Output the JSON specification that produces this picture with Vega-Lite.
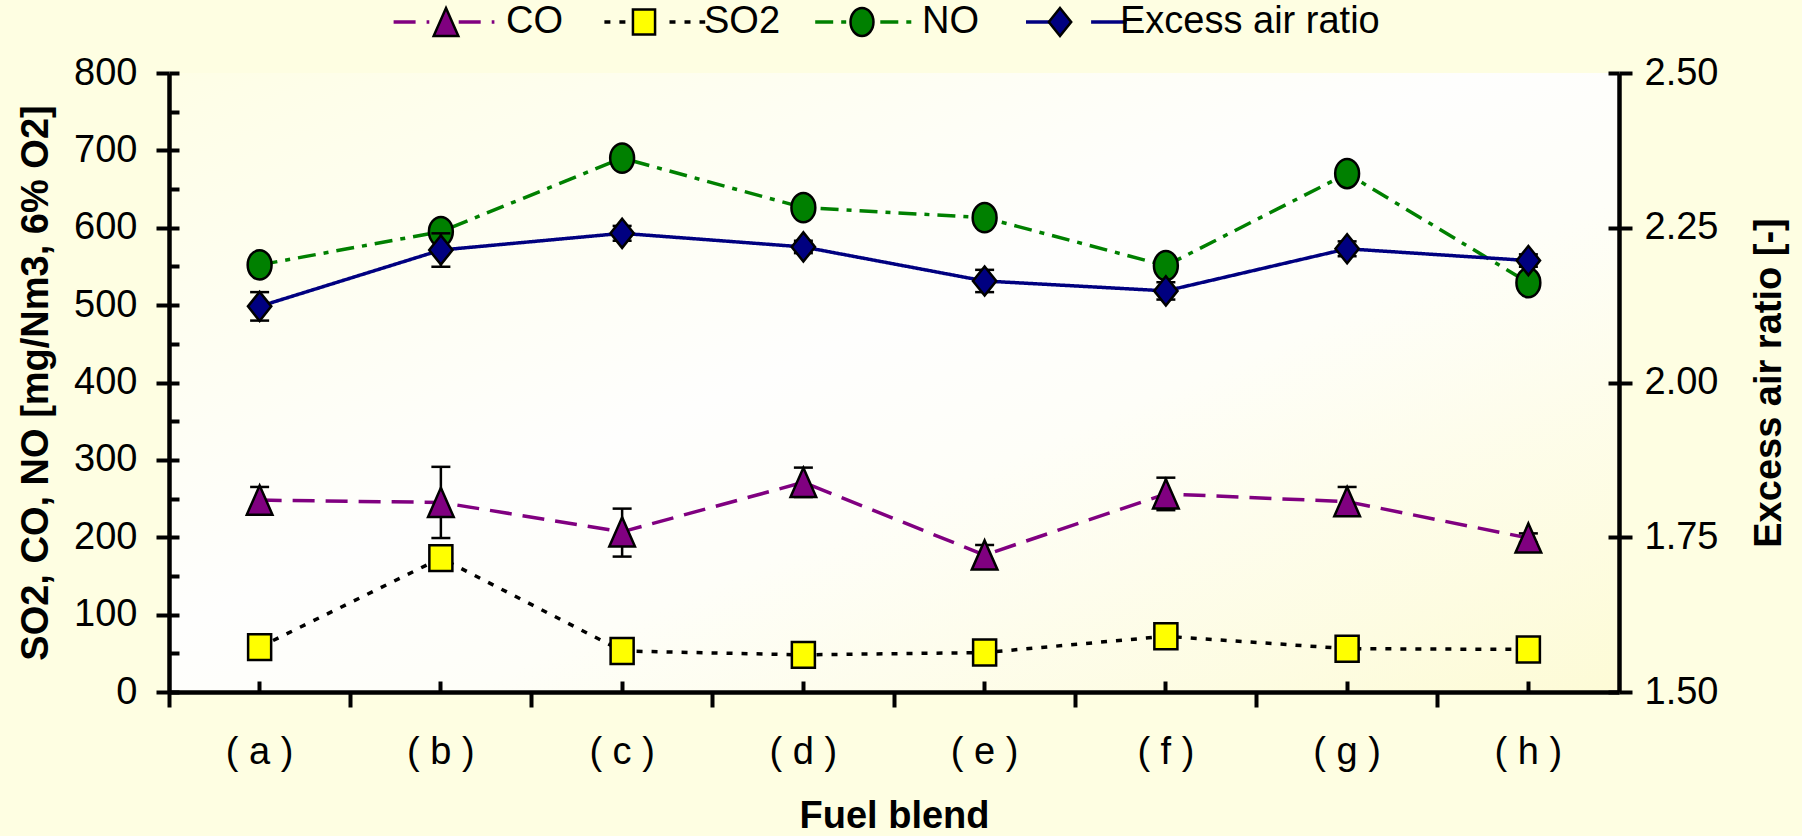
{
  "$schema": "https://vega.github.io/schema/vega-lite/v6.json",
  "width": 1450,
  "height": 619,
  "autosize": {"type": "none"},
  "padding": {"left": 169, "top": 73, "right": 183, "bottom": 144},
  "background": "#fefee2",
  "config": {
    "font": "Liberation Sans",
    "view": {
      "stroke": null,
      "fill": {
        "gradient": "linear", "x1": 0, "y1": 0, "x2": 1, "y2": 1,
        "stops": [
          {"offset": 0, "color": "#fefee6"},
          {"offset": 0.45, "color": "#fefefd"},
          {"offset": 0.6, "color": "#fefef8"},
          {"offset": 1, "color": "#fdfbd6"}
        ]
      }
    },
    "axis": {
      "labelFont": "Liberation Sans", "titleFont": "Liberation Sans",
      "domainColor": "black", "tickColor": "black", "labelColor": "black", "titleColor": "black",
      "grid": false, "tickWidth": 4, "domainWidth": 4.5, "labelFontSize": 38, "titleFontSize": 38,
      "titleFontWeight": "bold", "labelOverlap": false, "labelBound": false, "labelFlush": false
    },
    "legend": {"labelFont": "Liberation Sans"}
  },
  "datasets": {
    "emis": [
      {"series": "CO", "blend": "( a )", "value": 248, "lo": 231, "hi": 265},
      {"series": "CO", "blend": "( b )", "value": 245, "lo": 199, "hi": 291},
      {"series": "CO", "blend": "( c )", "value": 207, "lo": 175, "hi": 237},
      {"series": "CO", "blend": "( d )", "value": 271, "lo": 252, "hi": 290},
      {"series": "CO", "blend": "( e )", "value": 177, "lo": 164, "hi": 190},
      {"series": "CO", "blend": "( f )", "value": 256, "lo": 235, "hi": 277},
      {"series": "CO", "blend": "( g )", "value": 246, "lo": 228, "hi": 265},
      {"series": "CO", "blend": "( h )", "value": 199, "lo": 193, "hi": 205},
      {"series": "SO2", "blend": "( a )", "value": 58, "lo": null, "hi": null},
      {"series": "SO2", "blend": "( b )", "value": 173, "lo": null, "hi": null},
      {"series": "SO2", "blend": "( c )", "value": 53, "lo": null, "hi": null},
      {"series": "SO2", "blend": "( d )", "value": 48, "lo": null, "hi": null},
      {"series": "SO2", "blend": "( e )", "value": 51, "lo": null, "hi": null},
      {"series": "SO2", "blend": "( f )", "value": 72, "lo": null, "hi": null},
      {"series": "SO2", "blend": "( g )", "value": 56, "lo": null, "hi": null},
      {"series": "SO2", "blend": "( h )", "value": 55, "lo": null, "hi": null},
      {"series": "NO", "blend": "( a )", "value": 552, "lo": null, "hi": null},
      {"series": "NO", "blend": "( b )", "value": 595, "lo": null, "hi": null},
      {"series": "NO", "blend": "( c )", "value": 690, "lo": null, "hi": null},
      {"series": "NO", "blend": "( d )", "value": 626, "lo": null, "hi": null},
      {"series": "NO", "blend": "( e )", "value": 613, "lo": null, "hi": null},
      {"series": "NO", "blend": "( f )", "value": 551, "lo": null, "hi": null},
      {"series": "NO", "blend": "( g )", "value": 670, "lo": null, "hi": null},
      {"series": "NO", "blend": "( h )", "value": 529, "lo": null, "hi": null}
    ],
    "air": [
      {"series": "Excess air  ratio", "blend": "( a )", "value": 2.123, "lo": 2.100, "hi": 2.146},
      {"series": "Excess air  ratio", "blend": "( b )", "value": 2.214, "lo": 2.187, "hi": 2.241},
      {"series": "Excess air  ratio", "blend": "( c )", "value": 2.241, "lo": 2.229, "hi": 2.253},
      {"series": "Excess air  ratio", "blend": "( d )", "value": 2.219, "lo": 2.209, "hi": 2.229},
      {"series": "Excess air  ratio", "blend": "( e )", "value": 2.164, "lo": 2.146, "hi": 2.182},
      {"series": "Excess air  ratio", "blend": "( f )", "value": 2.148, "lo": 2.134, "hi": 2.162},
      {"series": "Excess air  ratio", "blend": "( g )", "value": 2.216, "lo": 2.204, "hi": 2.228},
      {"series": "Excess air  ratio", "blend": "( h )", "value": 2.197, "lo": 2.187, "hi": 2.207}
    ]
  },
  "encoding": {
    "x": {"field": "blend", "type": "nominal", "sort": null,
      "scale": {"type": "band", "paddingInner": 0, "paddingOuter": 0,
        "domain": ["( a )", "( b )", "( c )", "( d )", "( e )", "( f )", "( g )", "( h )"]},
      "axis": null}
  },
  "layer": [
    {
      "data": {"name": "emis"},
      "resolve": {"axis": {"y": "independent", "x": "independent"}},
      "layer": [
        {
          "mark": {"type": "line", "strokeWidth": 3.5},
          "encoding": {
            "x": {"field": "blend", "type": "nominal", "sort": null,
              "axis": {"orient": "bottom", "bandPosition": 0.5, "tickSize": 11, "offset": -11, "labelPadding": 41, "labelAngle": 0,
                "labelBaseline": "top", "title": "Fuel blend", "titlePadding": 26, "domain": false}},
            "y": {"field": "value", "type": "quantitative", "scale": {"domain": [0, 800], "nice": false, "zero": false},
              "axis": {"orient": "left", "values": [0, 100, 200, 300, 400, 500, 600, 700, 800], "tickSize": 13,
                "labelPadding": 19, "title": "SO2, CO, NO [mg/Nm3, 6% O2]", "titlePadding": 18}},
            "stroke": {"field": "series", "type": "nominal",
              "scale": {"domain": ["CO", "SO2", "NO", "Excess air  ratio"], "range": ["#800080", "#000000", "#008000", "#000080"]},
              "legend": {"title": null, "orient": "none", "legendX": 256, "legendY": -70, "direction": "horizontal",
                "columns": 4, "columnPadding": 94.8, "labelOffset": 0, "symbolSize": 784, "labelFontSize": 38,
                "labelExpr": "''", "padding": 0, "symbolStrokeWidth": 3.5, "symbolOpacity": 1,
                "symbolType": "M-3.6,0L-1.05,0M1.05,0L3.6,0", "symbolFillColor": "transparent"}},
            "strokeDash": {"field": "series", "type": "nominal",
              "scale": {"domain": ["CO", "SO2", "NO", "Excess air  ratio"], "range": [[22, 11], [6, 9], [18, 8, 5, 8], [1, 0]]}}
          }
        },
        {
          "transform": [{"filter": "datum.lo != null"}],
          "mark": {"type": "rule", "color": "black", "strokeWidth": 2.5},
          "encoding": {
            "y": {"field": "lo", "type": "quantitative", "axis": null},
            "y2": {"field": "hi"}
          }
        },
        {
          "transform": [{"filter": "datum.lo != null"}],
          "mark": {"type": "tick", "color": "black", "thickness": 2.5, "size": 19, "opacity": 1},
          "encoding": {
            "y": {"field": "lo", "type": "quantitative", "axis": null}
          }
        },
        {
          "transform": [{"filter": "datum.lo != null"}],
          "mark": {"type": "tick", "color": "black", "thickness": 2.5, "size": 19, "opacity": 1},
          "encoding": {
            "y": {"field": "hi", "type": "quantitative", "axis": null}
          }
        },
        {
          "mark": {"type": "point", "filled": true, "stroke": "black", "strokeWidth": 2.5, "opacity": 1, "size": 850},
          "encoding": {
            "x": {"field": "blend", "type": "nominal", "sort": null,
              "axis": {"orient": "bottom", "bandPosition": 0, "tickSize": 15, "labels": false, "title": null, "domain": true}},
            "y": {"field": "value", "type": "quantitative",
              "axis": {"orient": "left", "values": [0, 50, 100, 150, 200, 250, 300, 350, 400, 450, 500, 550, 600, 650, 700, 750, 800],
                "tickSize": 10, "offset": -10, "labels": false, "domain": false, "title": null}},
            "fill": {"field": "series", "type": "nominal",
              "scale": {"domain": ["CO", "SO2", "NO", "Excess air  ratio", "-"], "range": ["#800080", "#ffff00", "#008000", "#000080", "#ffffff"]},
              "legend": {"title": null, "orient": "none", "legendX": 258, "legendY": -70, "direction": "horizontal",
                "values": ["CO", "SO2", "NO", "Excess air  ratio"],
                "columns": 4, "columnPadding": 62, "labelOffset": 41, "symbolSize": 784, "labelFontSize": 38, "labelLimit": 500,
                "labelColor": "black", "padding": 0, "symbolStrokeWidth": 2.5, "symbolOpacity": 1,
                "symbolStrokeColor": "black"}},
            "shape": {"field": "series", "type": "nominal",
              "scale": {"domain": ["CO", "SO2", "NO", "Excess air  ratio", "-"],
                "range": ["M0,-1L0.88,1L-0.88,1Z", "M-0.79,-0.89L0.79,-0.89L0.79,0.89L-0.79,0.89Z", "M0,-1A0.82,1,0,1,1,0,1A0.82,1,0,1,1,0,-1Z", "M0,-1L0.8,0L0,1L-0.8,0Z", "circle"]}}
          }
        }
      ]
    },
    {
      "data": {"name": "air"},
      "resolve": {"axis": {"y": "independent"}},
      "layer": [
        {
          "mark": {"type": "line", "strokeWidth": 3.5},
          "encoding": {
            "y": {"field": "value", "type": "quantitative", "scale": {"domain": [1.5, 2.5], "nice": false, "zero": false},
              "axis": {"orient": "right", "values": [1.5, 1.75, 2.0, 2.25, 2.5], "format": ".2f", "tickSize": 13,
                "labelPadding": 12, "title": "Excess air ratio [-]", "titleAngle": 270, "titleBaseline": "top", "titlePadding": 33}},
            "stroke": {"field": "series", "type": "nominal"},
            "strokeDash": {"field": "series", "type": "nominal"}
          }
        },
        {
          "mark": {"type": "rule", "color": "black", "strokeWidth": 2.5},
          "encoding": {
            "y": {"field": "lo", "type": "quantitative", "axis": null},
            "y2": {"field": "hi"}
          }
        },
        {
          "mark": {"type": "tick", "color": "black", "thickness": 2.5, "size": 19, "opacity": 1},
          "encoding": {
            "y": {"field": "lo", "type": "quantitative", "axis": null}
          }
        },
        {
          "mark": {"type": "tick", "color": "black", "thickness": 2.5, "size": 19, "opacity": 1},
          "encoding": {
            "y": {"field": "hi", "type": "quantitative", "axis": null}
          }
        },
        {
          "mark": {"type": "point", "filled": true, "stroke": "black", "strokeWidth": 2.5, "opacity": 1, "size": 850},
          "encoding": {
            "y": {"field": "value", "type": "quantitative",
              "axis": {"orient": "right", "values": [1.5, 1.75, 2.0, 2.25, 2.5], "tickSize": 11, "offset": -11, "labels": false, "domain": false, "title": null}},
            "fill": {"field": "series", "type": "nominal"},
            "shape": {"field": "series", "type": "nominal"}
          }
        }
      ]
    }
  ],
  "resolve": {"scale": {"y": "independent"}}
}
